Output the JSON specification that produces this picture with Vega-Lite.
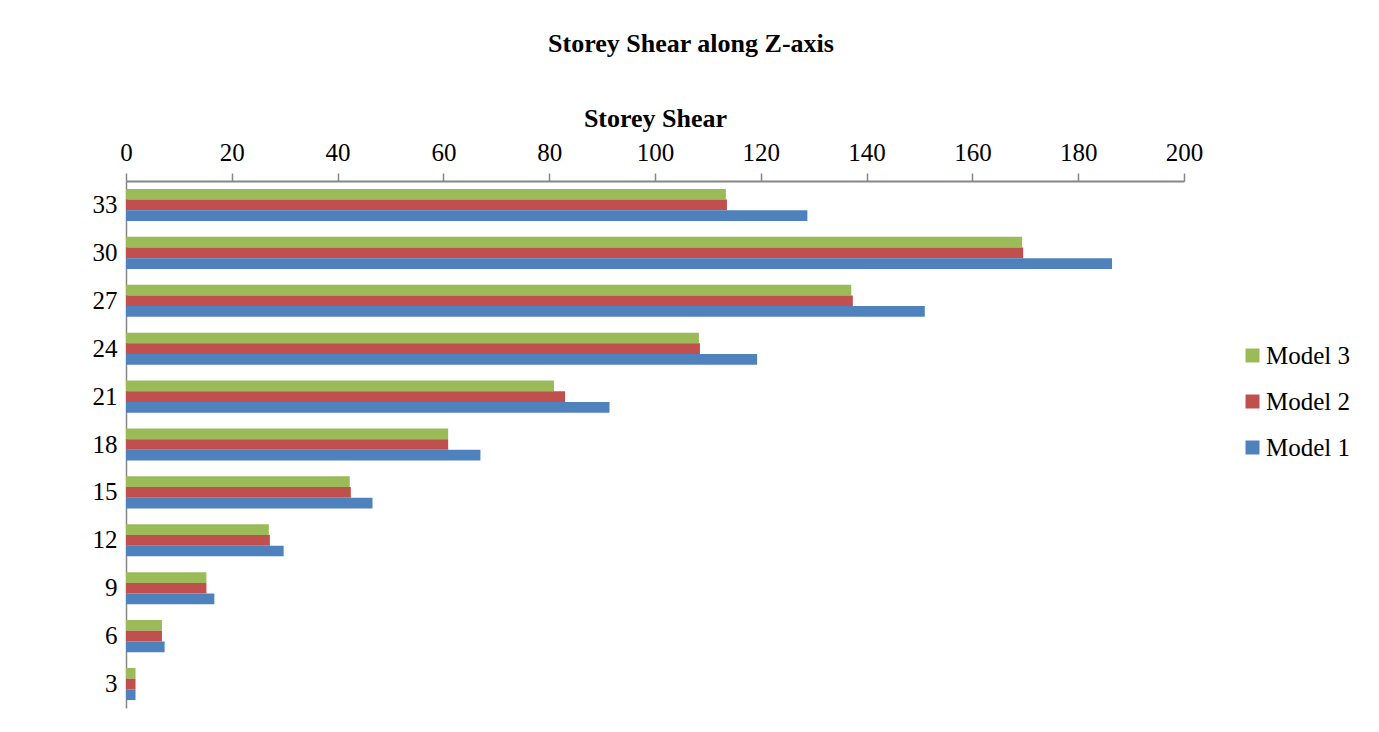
{
  "$schema": "https://vega.github.io/schema/vega-lite/v6.json",
  "width": 1058,
  "height": 527,
  "autosize": {"type": "none"},
  "padding": {"left": 126, "top": 181, "right": 195, "bottom": 24},
  "background": "white",
  "title": {
    "text": "Storey Shear along Z-axis",
    "font": "Liberation Serif",
    "fontSize": 26,
    "fontWeight": "bold",
    "color": "black",
    "anchor": "middle",
    "dx": 36,
    "offset": 48
  },
  "data": {
    "values": [
      {"storey": 33, "model": "Model 3", "shear": 113.4},
      {"storey": 33, "model": "Model 2", "shear": 113.6},
      {"storey": 33, "model": "Model 1", "shear": 128.8},
      {"storey": 30, "model": "Model 3", "shear": 169.4},
      {"storey": 30, "model": "Model 2", "shear": 169.6},
      {"storey": 30, "model": "Model 1", "shear": 186.4},
      {"storey": 27, "model": "Model 3", "shear": 137.1},
      {"storey": 27, "model": "Model 2", "shear": 137.4},
      {"storey": 27, "model": "Model 1", "shear": 151.0},
      {"storey": 24, "model": "Model 3", "shear": 108.3},
      {"storey": 24, "model": "Model 2", "shear": 108.5},
      {"storey": 24, "model": "Model 1", "shear": 119.3},
      {"storey": 21, "model": "Model 3", "shear": 80.9},
      {"storey": 21, "model": "Model 2", "shear": 83.0},
      {"storey": 21, "model": "Model 1", "shear": 91.4},
      {"storey": 18, "model": "Model 3", "shear": 60.9},
      {"storey": 18, "model": "Model 2", "shear": 60.9},
      {"storey": 18, "model": "Model 1", "shear": 67.0},
      {"storey": 15, "model": "Model 3", "shear": 42.3},
      {"storey": 15, "model": "Model 2", "shear": 42.5},
      {"storey": 15, "model": "Model 1", "shear": 46.6},
      {"storey": 12, "model": "Model 3", "shear": 27.0},
      {"storey": 12, "model": "Model 2", "shear": 27.2},
      {"storey": 12, "model": "Model 1", "shear": 29.8},
      {"storey": 9, "model": "Model 3", "shear": 15.2},
      {"storey": 9, "model": "Model 2", "shear": 15.2},
      {"storey": 9, "model": "Model 1", "shear": 16.7},
      {"storey": 6, "model": "Model 3", "shear": 6.8},
      {"storey": 6, "model": "Model 2", "shear": 6.8},
      {"storey": 6, "model": "Model 1", "shear": 7.3},
      {"storey": 3, "model": "Model 3", "shear": 1.8},
      {"storey": 3, "model": "Model 2", "shear": 1.8},
      {"storey": 3, "model": "Model 1", "shear": 1.8}
    ]
  },
  "mark": {"type": "bar"},
  "encoding": {
    "x": {
      "field": "shear",
      "type": "quantitative",
      "scale": {"domain": [0, 200], "nice": false},
      "axis": {
        "orient": "top",
        "title": "Storey Shear",
        "values": [0, 20, 40, 60, 80, 100, 120, 140, 160, 180, 200],
        "grid": false,
        "domainColor": "#868686",
        "domainWidth": 2,
        "tickColor": "#868686",
        "tickWidth": 1.5,
        "tickSize": 8,
        "labelPadding": 8,
        "labelFont": "Liberation Serif",
        "labelFontSize": 25,
        "labelColor": "black",
        "labelFlush": false,
        "labelOverlap": false,
        "titleFont": "Liberation Serif",
        "titleFontSize": 26,
        "titleFontWeight": "bold",
        "titleColor": "black",
        "titlePadding": 9
      }
    },
    "y": {
      "field": "storey",
      "type": "ordinal",
      "sort": "descending",
      "scale": {"paddingInner": 0.33, "paddingOuter": 0.165},
      "axis": {
        "title": null,
        "ticks": false,
        "domainColor": "#868686",
        "domainWidth": 1.5,
        "labelPadding": 9,
        "labelFont": "Liberation Serif",
        "labelFontSize": 25,
        "labelColor": "black"
      }
    },
    "yOffset": {
      "field": "model",
      "type": "nominal",
      "sort": ["Model 3", "Model 2", "Model 1"],
      "scale": {"paddingInner": 0, "paddingOuter": 0}
    },
    "color": {
      "field": "model",
      "type": "nominal",
      "scale": {
        "domain": ["Model 3", "Model 2", "Model 1"],
        "range": ["#9BBB59", "#C0504D", "#4F81BD"]
      },
      "legend": {
        "title": null,
        "orient": "none",
        "legendX": 1114,
        "legendY": 162,
        "padding": 0,
        "symbolType": "square",
        "symbolSize": 196,
        "symbolStrokeWidth": 0,
        "symbolOpacity": 1,
        "labelFont": "Liberation Serif",
        "labelFontSize": 25,
        "labelColor": "black",
        "labelOffset": 1,
        "rowPadding": 20,
        "labelLimit": 200
      }
    }
  },
  "config": {"view": {"stroke": null}}
}
